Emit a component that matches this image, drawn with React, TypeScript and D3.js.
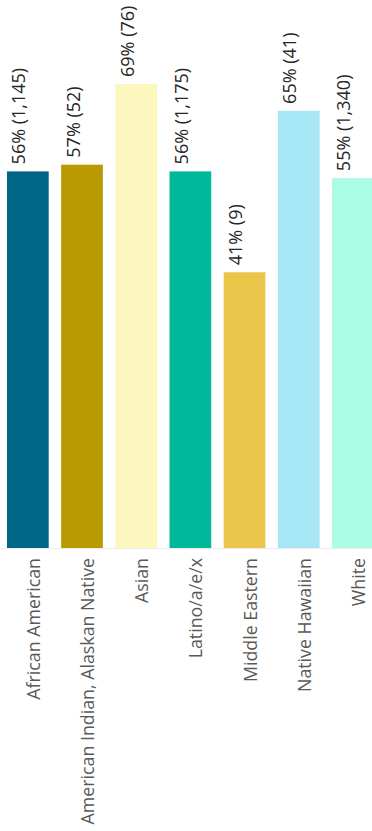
import React from "react";
import * as d3 from "d3";

// Share of respondents by race/ethnicity, with respondent counts
const categories = [
  "African American",
  "American Indian, Alaskan Native",
  "Asian",
  "Latino/a/e/x",
  "Middle Eastern",
  "Native Hawaiian",
  "White",
];
const percents = [56, 57, 69, 56, 41, 65, 55];
const counts = ["1,145", "52", "76", "1,175", "9", "41", "1,340"];
const colors = ["#006687", "#b99a02", "#fcf6bf", "#00b89a", "#ebc64b", "#a7e6f5", "#aafce5"];

const W = 372;
const H = 831;
const FONT = "'Open Sans', 'Noto Sans', sans-serif";

export default function App() {
  const x = d3
    .scaleBand<string>()
    .domain(categories)
    .range([0.75, 380])
    .paddingInner(0.23)
    .paddingOuter(0.115);
  const y = d3.scaleLinear().domain([0, 80]).range([548, 10]);
  const base = y(0);

  return (
    <svg
      width={W}
      height={H}
      style={{ position: "absolute", left: 0, top: 0, background: "#fff" }}
      fontFamily={FONT}
    >
      {categories.map((c, i) => {
        const x0 = x(c)!;
        const cx = x0 + x.bandwidth() / 2;
        const top = y(percents[i]);
        return (
          <g key={c}>
            <rect x={x0} y={top} width={x.bandwidth()} height={base - top} fill={colors[i]} />
            <text
              transform={`translate(${cx},${top - 7}) rotate(-90)`}
              dy={-2.5}
              textAnchor="start"
              fontSize={18}
              fill="#262626"
            >
              {`${percents[i]}% (${counts[i]})`}
            </text>
            <text
              transform={`translate(${cx},${base + 10}) rotate(-90)`}
              dy={12}
              textAnchor="end"
              fontSize={17.8}
              fill="#595959"
            >
              {c}
            </text>
          </g>
        );
      })}
      <line x1={1} x2={W} y1={base + 0.5} y2={base + 0.5} stroke="#ececec" strokeWidth={1} />
    </svg>
  );
}
